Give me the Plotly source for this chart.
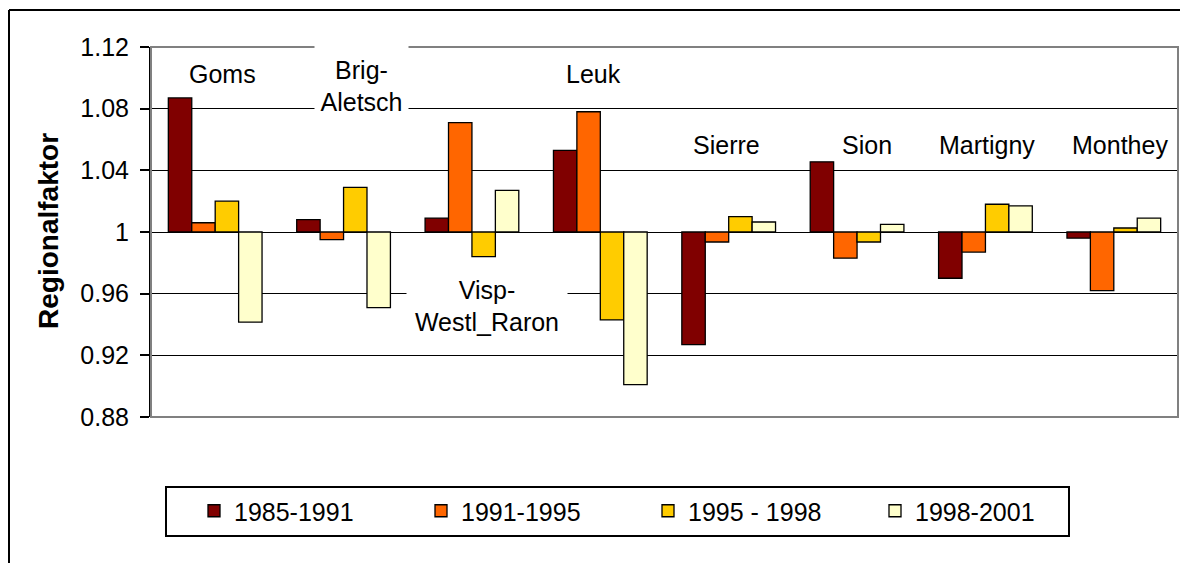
import plotly.graph_objects as go

regions = ["Goms", "Brig-Aletsch", "Visp-Westl_Raron", "Leuk", "Sierre", "Sion", "Martigny", "Monthey"]
region_labels = ["Goms", "Brig-<br>Aletsch", "Visp-<br>Westl_Raron", "Leuk", "Sierre", "Sion", "Martigny", "Monthey"]
periods = ["1985-1991", "1991-1995", "1995 - 1998", "1998-2001"]
v_1985_1991 = [1.087, 1.008, 1.009, 1.053, 0.927, 1.0455, 0.970, 0.996]
v_1991_1995 = [1.006, 0.995, 1.071, 1.078, 0.9935, 0.983, 0.987, 0.962]
v_1995_1998 = [1.020, 1.029, 0.984, 0.943, 1.010, 0.9935, 1.018, 1.0026]
v_1998_2001 = [0.9415, 0.951, 1.027, 0.901, 1.0065, 1.005, 1.017, 1.009]
series = [v_1985_1991, v_1991_1995, v_1995_1998, v_1998_2001]
colors = ["#800000", "#FF6600", "#FFCC00", "#FFFFCC"]
baseline = 1.0
y_ticks = [0.88, 0.92, 0.96, 1.0, 1.04, 1.08, 1.12]
y_ticktext = ["0.88", "0.92", "0.96", "1", "1.04", "1.08", "1.12"]

# page is rendered with the browser's default 8px body margin
OFF = 8
W, H = 1188 - OFF, 563 - OFF
# plot area in page pixels: x 151..1178, y 47..417
ML = 151 - OFF
MT = 47 - OFF
MR = (W + OFF) - 1178
MB = (H + OFF) - 417
PW, PH = W - ML - MR, H - MT - MB

def px(x):
    """page x pixel -> paper coordinate"""
    return (x - OFF - ML) / PW

def py(y):
    """page y pixel -> paper coordinate"""
    return (H - MB - (y - OFF)) / PH

FONT = "Liberation Sans, Arial, sans-serif"

fig = go.Figure()
for name, vals, col in zip(periods, series, colors):
    fig.add_trace(go.Bar(
        x=regions, y=[v - baseline for v in vals], base=baseline, name=name,
        marker=dict(color=col, line=dict(color="black", width=1.3)),
    ))

# category labels (positions / styles)
label_cfg = {
    "Goms": dict(y=1.1022, xshift=7),
    "Brig-Aletsch": dict(y=1.095, xshift=18, width=93, height=84, bgcolor="white"),
    "Visp-Westl_Raron": dict(y=0.9518, xshift=15, width=160, height=80, bgcolor="white"),
    "Leuk": dict(y=1.1022, xshift=-7),
    "Sierre": dict(y=1.0567, xshift=-2),
    "Sion": dict(y=1.0567, xshift=10),
    "Martigny": dict(y=1.0567, xshift=2),
    "Monthey": dict(y=1.0567, xshift=6),
}
annotations = []
for reg, lab in zip(regions, region_labels):
    cfg = label_cfg[reg]
    a = dict(x=reg, y=cfg["y"], xref="x", yref="y", text=lab, showarrow=False,
             xshift=cfg["xshift"], font=dict(family=FONT, size=25, color="black"),
             borderpad=0)
    for k in ("width", "height", "bgcolor"):
        if k in cfg:
            a[k] = cfg[k]
    annotations.append(a)

annotations.append(dict(
    x=px(48), y=py(231), xref="paper", yref="paper", text="<b>Regionalfaktor</b>",
    textangle=-90, showarrow=False, xanchor="center", yanchor="middle",
    font=dict(family=FONT, size=28, color="black")))

shapes = [
    # plot frame (gray)
    dict(type="rect", xref="paper", yref="paper", x0=0, x1=1, y0=0, y1=1,
         line=dict(color="#808080", width=2), layer="above"),
    # legend box
    dict(type="rect", xref="paper", yref="paper", x0=px(166), x1=px(1069), y0=py(536), y1=py(487),
         line=dict(color="black", width=2)),
    # outer chart border (left + top)
    dict(type="line", xref="paper", yref="paper", x0=px(9), x1=px(9), y0=py(10), y1=py(620),
         line=dict(color="black", width=2)),
    dict(type="line", xref="paper", yref="paper", x0=px(9), x1=px(1250), y0=py(10), y1=py(10),
         line=dict(color="black", width=2)),
]

fig.update_layout(
    width=W, height=H,
    margin=dict(l=ML, r=MR, t=MT, b=MB),
    paper_bgcolor="white", plot_bgcolor="white",
    barmode="group", bargap=0.27, bargroupgap=0,
    font=dict(family=FONT, size=25, color="black"),
    showlegend=True,
    legend=dict(orientation="h", x=px(194), xanchor="left", y=py(511), yanchor="middle",
                entrywidth=182, entrywidthmode="pixels", bgcolor="rgba(0,0,0,0)",
                borderwidth=0, font=dict(family=FONT, size=25, color="black"),
                traceorder="normal"),
    annotations=annotations,
    shapes=shapes,
    xaxis=dict(showticklabels=False, ticks="", showgrid=False, showline=False,
               range=[-0.5, 7.5], zeroline=False),
    yaxis=dict(range=[0.88, 1.12], tickvals=y_ticks, ticktext=y_ticktext,
               showgrid=True, gridcolor="black", gridwidth=1.3,
               showline=True, linecolor="black", linewidth=2,
               ticks="outside", ticklen=9, tickwidth=1.5, tickcolor="black",
               ticklabelstandoff=6, zeroline=False,
               tickfont=dict(family=FONT, size=25, color="black")),
)

fig.write_html("out.html")
